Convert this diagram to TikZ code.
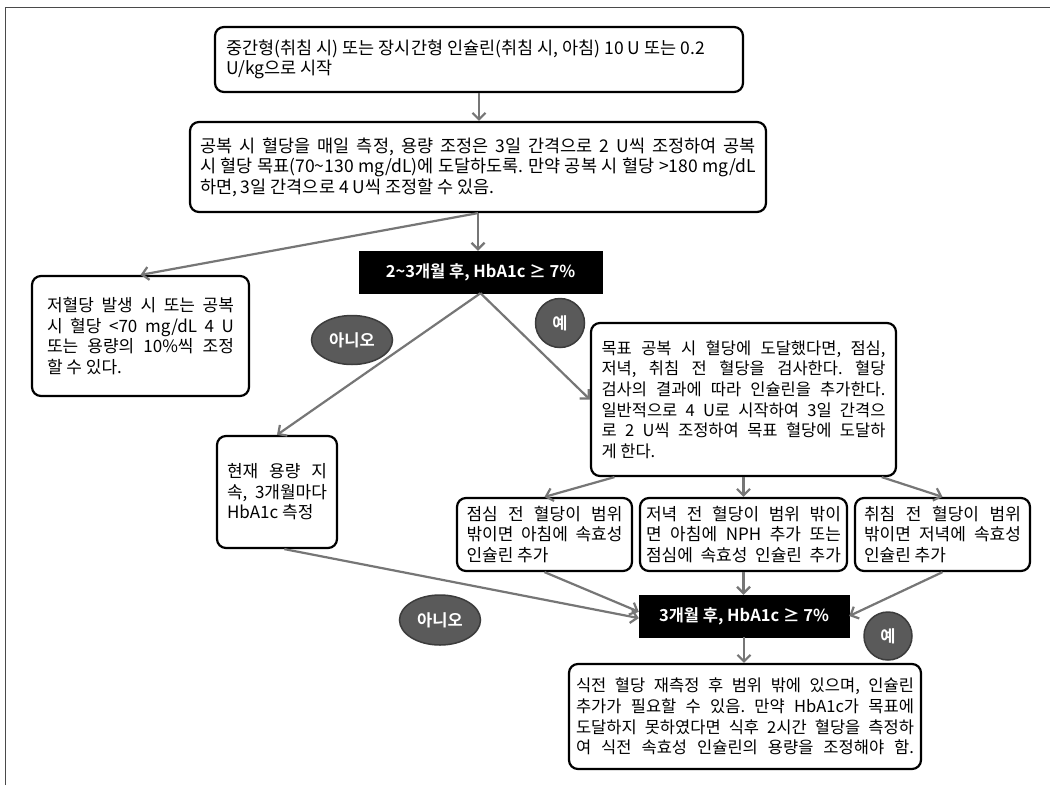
\documentclass[tikz,border=0pt]{standalone}
\usepackage{fontspec}
\setmainfont{Noto Sans CJK KR}
\newfontfamily\boldcjk{Noto Sans CJK KR Bold}
\usetikzlibrary{arrows.meta,shapes.geometric,calc}
\definecolor{arrgray}{HTML}{767676}
\definecolor{ovfill}{HTML}{5A5A5A}
\definecolor{ovdraw}{HTML}{3C3C3C}
\definecolor{framegray}{HTML}{4A4A4A}
\frenchspacing
\newcommand\JL[2]{\makebox[#1pt][s]{#2}}
\newcommand\LL[2]{\makebox[#1pt][l]{#2}}
\tikzset{
  txtbox/.style={draw=black, line width=2.2pt, rounded corners=9pt, fill=white,
    inner sep=0pt, align=left, font=\fontsize{17}{20.5}\selectfont},
  bigtxt/.style={font=\fontsize{17.5}{20.5}\selectfont},
  smalltxt/.style={font=\fontsize{16.5}{20.6}\selectfont},
  blackbox/.style={fill=black, draw=black, inner sep=0pt, text=white,
    font=\fontsize{16.5}{20}\selectfont\boldcjk},
  oval/.style={ellipse, fill=ovfill, draw=ovdraw, line width=1.5pt, inner sep=0pt,
    text=white, font=\fontsize{16.5}{20}\selectfont\boldcjk},
  arr/.style={draw=arrgray, line width=2.2pt, -{Straight Barb[length=6.5pt,width=13pt]}},
}
\begin{document}
\begin{tikzpicture}[x=1pt,y=-1pt]
\useasboundingbox (0,0) rectangle (1050,785);
\fill[white] (0,0) rectangle (1050,785);
% frame
\draw[framegray, line width=1pt] (5,785) -- (5,7) -- (1050,7);

% boxes
\node[txtbox, bigtxt, minimum width=528pt, minimum height=65pt] (A) at (479,59.5)
  {\LL{505}{중간형(취침 시) 또는 장시간형 인슐린(취침 시, 아침) 10 U 또는 0.2}\\
   \LL{505}{U/kg으로 시작}};
\node[txtbox, bigtxt, minimum width=576pt, minimum height=90pt] (B) at (478,167)
  {\JL{556}{공복 시 혈당을 매일 측정, 용량 조정은 3일 간격으로 2 U씩 조정하여 공복}\\
   \JL{556}{시 혈당 목표(70\textasciitilde130 mg/dL)에 도달하도록. 만약 공복 시 혈당 >180 mg/dL}\\
   \LL{556}{하면, 3일 간격으로 4 U씩 조정할 수 있음.}};
\node[blackbox, minimum width=243pt, minimum height=42pt] (C) at (480.5,272)
  {2\textasciitilde3개월 후, HbA1c ≥ 7\%};
\node[txtbox, minimum width=217pt, minimum height=120pt] (D) at (140.5,336)
  {\JL{187}{저혈당 발생 시 또는 공복}\\
   \JL{187}{시 혈당 <70 mg/dL 4 U}\\
   \JL{187}{또는 용량의 10\%씩 조정}\\
   \LL{187}{할 수 있다.}};
\node[txtbox, minimum width=120pt, minimum height=112pt] (E) at (277,492)
  {\JL{100}{현재 용량 지}\\
   \JL{100}{속, 3개월마다}\\
   \LL{100}{HbA1c 측정}};
\node[txtbox, smalltxt, minimum width=305pt, minimum height=153pt] (F) at (743.5,399.5)
  {\JL{284}{목표 공복 시 혈당에 도달했다면, 점심,}\\
   \JL{284}{저녁, 취침 전 혈당을 검사한다. 혈당}\\
   \JL{284}{검사의 결과에 따라 인슐린을 추가한다.}\\
   \JL{284}{일반적으로 4 U로 시작하여 3일 간격으}\\
   \JL{284}{로 2 U씩 조정하여 목표 혈당에 도달하}\\
   \LL{284}{게 한다.}};
\node[txtbox, minimum width=175pt, minimum height=73pt] (G1) at (544.5,534.5)
  {\JL{156}{점심 전 혈당이 범위}\\
   \JL{156}{밖이면 아침에 속효성}\\
   \LL{156}{인슐린 추가}};
\node[txtbox, minimum width=207pt, minimum height=73pt] (G2) at (743.5,534.5)
  {\JL{195}{저녁 전 혈당이 범위 밖이}\\
   \JL{195}{면 아침에 NPH 추가 또는}\\
   \JL{195}{점심에 속효성 인슐린 추가}};
\node[txtbox, minimum width=175pt, minimum height=73pt] (G3) at (942.5,534.5)
  {\JL{157}{취침 전 혈당이 범위}\\
   \JL{157}{밖이면 저녁에 속효성}\\
   \LL{157}{인슐린 추가}};
\node[blackbox, minimum width=210pt, minimum height=42pt] (H) at (744,616)
  {3개월 후, HbA1c ≥ 7\%};
\node[txtbox, smalltxt, minimum width=352pt, minimum height=105pt] (I) at (745,716.5)
  {\JL{338}{식전 혈당 재측정 후 범위 밖에 있으며, 인슐린}\\
   \JL{338}{추가가 필요할 수 있음. 만약 HbA1c가 목표에}\\
   \JL{338}{도달하지 못하였다면 식후 2시간 혈당을 측정하}\\
   \JL{338}{여 식전 속효성 인슐린의 용량을 조정해야 함.}};

% labels
\node[oval, minimum width=81pt, minimum height=49pt] (N1) at (352,340) {아니오};
\node[oval, minimum width=49pt, minimum height=49pt] (Y1) at (560,323) {예};
\node[oval, minimum width=81pt, minimum height=50pt] (N2) at (440,620) {아니오};
\node[oval, minimum width=48pt, minimum height=48pt] (Y2) at (888,636) {예};

% connectors
\draw[arr] (A.south) -- (A.south |- B.north);
\draw[arr] (B.south) -- (B.south |- C.north);
\draw[arr] (B.south) -- (D.north);
\draw[arr] (C.south) -- (E.north);
\draw[arr] (C.south) -- (F.west);
\draw[arr] ($(F.south west)!0.08!(F.south east)$) -- (G1.north);
\draw[arr] (F.south) -- (G2.north);
\draw[arr] ($(F.south west)!0.95!(F.south east)$) -- (G3.north);
\draw[arr] ($(E.south west)!0.56!(E.south east)$) -- ($(H.north west)!0.55!(H.south west)$);
\draw[arr] (G1.south) -- ($(H.north west)!0.4!(H.south west)$);
\draw[arr] (G2.south) -- (G2.south |- H.north);
\draw[arr] (G3.south) -- (H.east);
\draw[arr] (H.south) -- (H.south |- I.north);
\end{tikzpicture}
\end{document}
